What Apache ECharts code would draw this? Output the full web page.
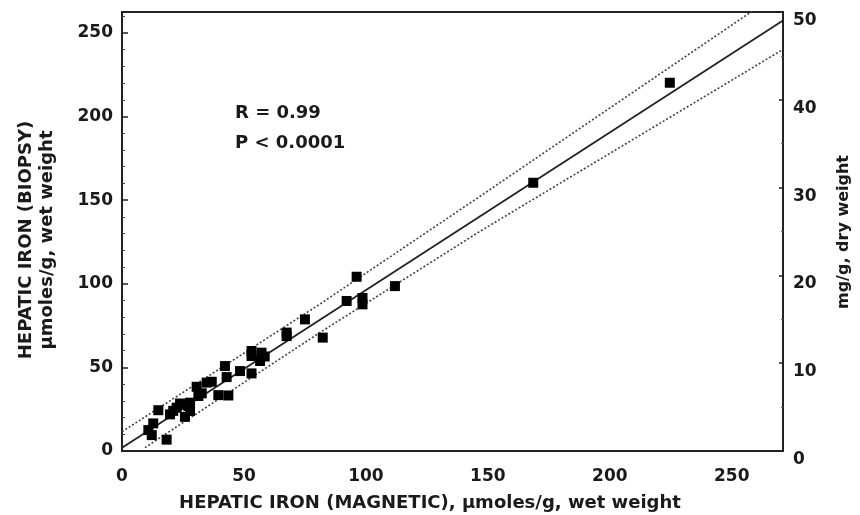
<!DOCTYPE html>
<html><head><meta charset="utf-8">
<script src="https://cdn.jsdelivr.net/npm/echarts@6/dist/echarts.min.js"></script>
<style>html,body{margin:0;padding:0;background:#fff}#c{width:860px;height:515px}</style>
</head><body><div id="c"></div>
<script>
const xTicks = [0, 50, 100, 150, 200, 250];
const yLeftTicks = [0, 50, 100, 150, 200, 250];
const yLeftMinor = [10,20,30,40,60,70,80,90,110,120,130,140,160,170,180,190,210,220,230,240,260];
const yRightTicks = [0, 10, 20, 30, 40, 50];
const yRightMinor = [5, 15, 25, 35, 45];

const magnetic = [224.6,168.6,96.2,111.9,92.1,98.6,98.6,75,82.3,67.5,67.5,53.1,57.2,56.6,53.1,42.2,48.4,53.1,42.9,36.8,30.6,39.5,43.6,31.3,25.8,22.4,19.7,14.9,25.8,27.9,12.8,10.8,12.2,18.3,34.7,23.8,27.2,32.7,21,27.9,58.5];
const biopsy   = [220.2,160.4,104.2,98.6,89.7,91.5,87.7,78.7,67.8,68.7,70.8,59.8,58.8,53.8,56.8,50.8,47.8,46.4,44.2,41.4,38.4,33.4,33.2,32.9,27.9,25.9,21.9,24.4,20.4,23.9,16.5,12.5,9.5,6.8,40.9,28.4,26.9,34.5,24,28.9,56.5];

const fitX = [0, 271];
const fitY = [2, 257.4];
const upperX = [0, 81, 146.7, 258.2];
const upperY = [11.5, 87.7, 152.2, 262.8];
const lowerX = [9.4, 81.1, 146.7, 271];
const lowerY = [2, 70.8, 131.3, 240.1];

const FONT = 'DejaVu Sans';
const INK = '#1a1a1a';
const pairs = (xs, ys) => xs.map((x, i) => [x, ys[i]]);
const axLine = {show: true, onZero: false, lineStyle: {color: '#222', width: 2}};

const chart = echarts.init(document.getElementById('c'), null, {renderer: 'canvas'});
chart.setOption({
  animation: false,
  backgroundColor: '#fff',
  grid: {left: 122, right: 77, top: 12, bottom: 64, containLabel: false},
  xAxis: [
    {type: 'value', min: 0, max: 271, position: 'bottom', axisLine: axLine,
     axisTick: {show: false}, splitLine: {show: false},
     axisLabel: {customValues: xTicks, margin: 17, fontFamily: FONT, fontWeight: 'bold', fontSize: 17, color: INK}},
    {type: 'value', min: 0, max: 271, position: 'top', axisLine: axLine,
     axisTick: {show: false}, splitLine: {show: false}, axisLabel: {show: false}}
  ],
  yAxis: [
    {type: 'value', min: 0, max: 262.5, position: 'left', axisLine: axLine, splitLine: {show: false},
     axisTick: {show: true, inside: true, length: 6, customValues: yLeftTicks, lineStyle: {color: '#222', width: 1.5}},
     axisLabel: {customValues: yLeftTicks, margin: 9, fontFamily: FONT, fontWeight: 'bold', fontSize: 17, color: INK}},
    {type: 'value', min: 0, max: 262.5, position: 'left', axisLine: axLine, splitLine: {show: false},
     axisTick: {show: true, inside: true, length: 3, customValues: yLeftMinor, lineStyle: {color: '#444', width: 1}},
     axisLabel: {show: false}},
    {type: 'value', min: 0, max: 50, position: 'right', axisLine: axLine, splitLine: {show: false},
     axisTick: {show: true, inside: true, length: 4, customValues: yRightTicks, lineStyle: {color: '#222', width: 1.5}},
     axisLabel: {customValues: yRightTicks, margin: 10, verticalAlign: 'top', fontFamily: FONT, fontWeight: 'bold', fontSize: 17, color: INK}},
    {type: 'value', min: 0, max: 50, position: 'right', axisLine: axLine, splitLine: {show: false},
     axisTick: {show: true, inside: true, length: 2, customValues: yRightMinor, lineStyle: {color: '#666', width: 1}},
     axisLabel: {show: false}}
  ],
  series: [
    {type: 'line', data: pairs(upperX, upperY), symbol: 'none', lineStyle: {color: '#444', width: 1.6, type: [2, 2]}, z: 2},
    {type: 'line', data: pairs(lowerX, lowerY), symbol: 'none', lineStyle: {color: '#444', width: 1.6, type: [2, 2]}, z: 2},
    {type: 'line', data: pairs(fitX, fitY), symbol: 'none', lineStyle: {color: '#222', width: 1.8}, z: 3},
    {type: 'scatter', data: pairs(magnetic, biopsy), symbol: 'rect', symbolSize: 10, itemStyle: {color: '#000', opacity: 1}, z: 4}
  ],
  graphic: [
    {type: 'text', left: 235, top: 104, style: {text: 'R = 0.99', font: 'bold 18px "DejaVu Sans"', fill: INK}},
    {type: 'text', left: 235, top: 134, style: {text: 'P < 0.0001', font: 'bold 18px "DejaVu Sans"', fill: INK}},
    {type: 'text', x: 430, y: 503, style: {text: 'HEPATIC IRON (MAGNETIC), µmoles/g, wet weight', font: 'bold 18px "DejaVu Sans"', fill: INK, align: 'center', verticalAlign: 'middle'}},
    {type: 'text', x: 37, y: 240, rotation: Math.PI / 2, style: {text: 'HEPATIC IRON (BIOPSY)\nµmoles/g, wet weight', font: 'bold 18px "DejaVu Sans"', lineHeight: 21, fill: INK, align: 'center', verticalAlign: 'middle'}},
    {type: 'text', x: 844, y: 232, rotation: Math.PI / 2, style: {text: 'mg/g, dry weight', font: 'bold 16px "DejaVu Sans"', fill: INK, align: 'center', verticalAlign: 'middle'}}
  ]
});
</script>
</body></html>
